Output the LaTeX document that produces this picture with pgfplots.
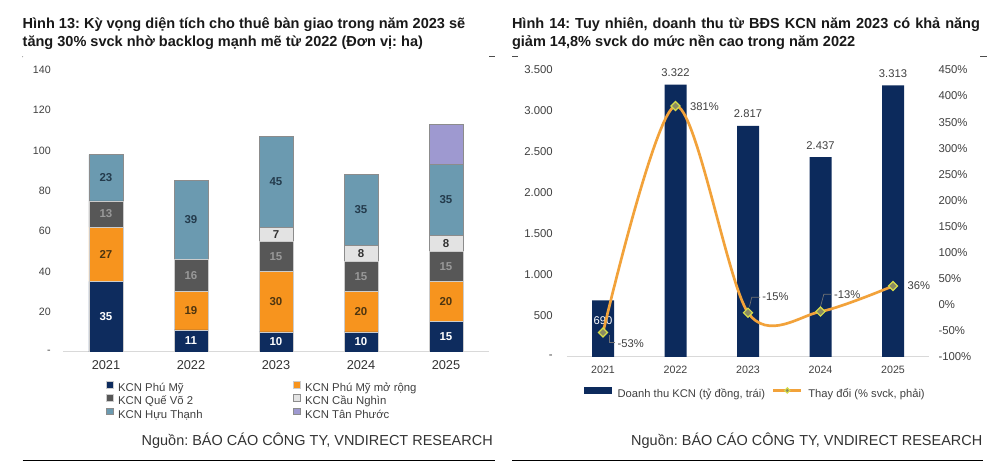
\documentclass[border=0pt]{standalone}
\usepackage{pgfplots}
\pgfplotsset{compat=1.18}
\usepackage{pgfplotstable}
\usepackage{fontspec}
\setmainfont{Liberation Sans}
\frenchspacing

\definecolor{navyL}{HTML}{0E2C5E}
\definecolor{orangeL}{HTML}{F7941E}
\definecolor{dgrayL}{HTML}{575757}
\definecolor{lgrayL}{HTML}{E3E3E3}
\definecolor{steelL}{HTML}{6B9AB0}
\definecolor{lavL}{HTML}{9E99D0}
\definecolor{navyR}{HTML}{0C2A5C}
\definecolor{orangeR}{HTML}{F2A23A}
\definecolor{mkfill}{HTML}{8A8B63}
\definecolor{mkdraw}{HTML}{D6DC4A}
\definecolor{txt}{HTML}{404040}
\definecolor{bord}{HTML}{8C8C8C}
\definecolor{orlbl}{HTML}{4D3510}
\definecolor{stlbl}{HTML}{243B4C}

\pgfplotstableread{
x pm pmr qv cn ht tp
0 35 27 13 0 23 0
1 11 19 16 0 39 0
2 10 30 15 7 45 0
3 10 20 15 8 35 0
4 15 20 15 8 35 20
}\stackdata

\pgfplotstableread{
x rev lab dy wh
0 690 690 -15 1
1 3322 3.322 9 0
2 2817 2.817 9 0
3 2437 2.437 9 0
4 3313 3.313 9 0
}\revdata

\pgfplotstableread{
x chg dx dy
0 -53 10.5 -8.1
1 381 10.5 -0.8
2 -15 10.3 11.9
3 -13 9.75 13
4 36 10.5 0
}\chgdata

\pgfplotsset{
  stacklbl/.style={
    nodes near coords={\ifnum\pgfplotspointmeta>0 \pgfplotspointmeta\fi},
    point meta=explicit symbolic,
    every node near coord/.append style={anchor=center, inner sep=0pt,
      font=\bfseries\fontsize{8.6}{10}\selectfont, text=#1},
  },
  linelegend/.style={
    legend image code/.code={\draw[mark repeat=2, mark phase=2, ##1, mark size=1.4pt] plot coordinates {(0pt,3pt) (10.5pt,3pt) (21pt,3pt)};}
  },
  boxlegend/.style={
    legend image code/.code={\draw[##1, line width=0.4pt] (0pt,0.4pt) rectangle (5.2pt,5.6pt);}
  },
}

\begin{document}
\begin{tikzpicture}
\path[use as bounding box, fill=white] (0,0) rectangle (750pt,354.75pt);

% ---------------- titles ----------------
\node[anchor=base west, inner sep=0pt, font=\bfseries\fontsize{10.9}{13}\selectfont, text=black!90]
  at (16.8pt,333.5pt) {Hình 13: Kỳ vọng diện tích cho thuê bàn giao trong năm 2023 sẽ};
\node[anchor=base west, inner sep=0pt, font=\bfseries\fontsize{10.9}{13}\selectfont, text=black!90]
  at (16.8pt,319.5pt) {tăng 30\% svck nhờ backlog mạnh mẽ từ 2022 (Đơn vị: ha)};
\node[anchor=base west, inner sep=0pt, font=\bfseries\fontsize{10.9}{13}\selectfont, text=black!90]
  at (383.8pt,333.5pt) {\makebox[351pt][s]{Hình 14: Tuy nhiên, doanh thu từ BĐS KCN năm 2023 có khả năng}};
\node[anchor=base west, inner sep=0pt, font=\bfseries\fontsize{10.9}{13}\selectfont, text=black!90]
  at (383.8pt,319.5pt) {giảm 14,8\% svck do mức nền cao trong năm 2022};

% small dashes
\draw[black!70, line width=0.6pt] (366.75pt,312.2pt) -- (371.25pt,312.2pt);
\draw[black!70, line width=0.6pt] (384pt,312.2pt) -- (388.5pt,312.2pt);
\draw[black!70, line width=0.6pt] (735pt,312.2pt) -- (740.5pt,312.2pt);
\fill[black!50] (17pt,312.2pt) circle (0.4pt);

% ---------------- left chart ----------------
\begin{axis}[
  at={(47.625pt,90.75pt)}, anchor=south west,
  scale only axis, width=318.75pt, height=211.5pt,
  xmin=-0.5, xmax=4.5, ymin=0, ymax=140,
  ybar stacked, bar width=25.5pt,
  axis x line*=bottom, axis y line*=left,
  y axis line style={draw=none},
  x axis line style={draw=black!15, line width=0.75pt},
  major tick length=0pt,
  xtick={0,1,2,3,4}, xticklabels={2021,2022,2023,2024,2025},
  ytick={0,20,40,60,80,100,120,140},
  yticklabels={-,20,40,60,80,100,120,140},
  yticklabel style={inner sep=0pt, anchor=east, xshift=-9.4pt, font=\fontsize{8}{9}\selectfont, text=txt},
  xticklabel style={inner sep=0pt, anchor=north, yshift=-6.2pt, font=\fontsize{9.6}{11}\selectfont, text=black!80},
  legend columns=2,
  legend cell align=left,
  legend style={at={(axis description cs:0.1007,-0.102)}, anchor=north west,
    draw=none, fill=none, inner sep=0pt, outer sep=0pt,
    font=\fontsize{8.5}{10}\selectfont, text=txt, row sep=-0.5pt,
    nodes={inner sep=0.5pt, text height=6.5pt, text depth=2pt},
    /tikz/every odd column/.append style={column sep=2.8pt},
    /tikz/every even column/.append style={column sep=67.5pt}},
  boxlegend,
]
\addplot[fill=navyL, draw=white!60!gray, line width=0.5pt, stacklbl=white]
  table[x=x, y=pm, meta=pm] {\stackdata};
\addlegendentry{KCN Phú Mỹ}
\addplot[fill=orangeL, draw=white!60!gray, line width=0.5pt, stacklbl=orlbl]
  table[x=x, y=pmr, meta=pmr] {\stackdata};
\addlegendentry{KCN Phú Mỹ mở rộng}
\addplot[fill=dgrayL, draw=white!60!gray, line width=0.5pt, stacklbl=black!40]
  table[x=x, y=qv, meta=qv] {\stackdata};
\addlegendentry{KCN Quế Võ 2}
\addplot[fill=lgrayL, draw=bord, line width=0.5pt, stacklbl=black!80]
  table[x=x, y=cn, meta=cn] {\stackdata};
\addlegendentry{KCN Cầu Nghìn}
\addplot[fill=steelL, draw=bord, line width=0.5pt, stacklbl=stlbl]
  table[x=x, y=ht, meta=ht] {\stackdata};
\addlegendentry{KCN Hựu Thạnh}
\addplot[fill=lavL, draw=bord, line width=0.5pt]
  table[x=x, y=tp] {\stackdata};
\addlegendentry{KCN Tân Phước}
\end{axis}

% ---------------- right chart: bars ----------------
\begin{axis}[
  at={(425.0625pt,87pt)}, anchor=south west,
  scale only axis, width=271.875pt, height=215.25pt,
  xmin=-0.5, xmax=4.5, ymin=0, ymax=3500,
  ybar, bar width=16.5pt, bar shift=0pt,
  axis x line*=bottom, axis y line*=left,
  y axis line style={draw=none},
  x axis line style={draw=black!15, line width=0.75pt},
  major tick length=0pt,
  xtick={0,1,2,3,4}, xticklabels={2021,2022,2023,2024,2025},
  ytick={0,500,1000,1500,2000,2500,3000,3500},
  yticklabels={-,500,1.000,1.500,2.000,2.500,3.000,3.500},
  yticklabel style={inner sep=0pt, anchor=east, xshift=-10.3pt, font=\fontsize{8.5}{10}\selectfont, text=txt},
  xticklabel style={inner sep=0pt, anchor=north, yshift=-6.9pt, font=\fontsize{8}{9}\selectfont, text=txt},
]
\addplot[fill=navyR, draw=none,
  nodes near coords={\ifdim\wh pt>0.5pt\color{white}\fi\pgfplotspointmeta},
  point meta=explicit symbolic,
  visualization depends on={\thisrow{dy} \as \dy},
  visualization depends on={\thisrow{wh} \as \wh},
  every node near coord/.append style={anchor=center, inner sep=0pt, yshift=\dy pt,
    font=\fontsize{8.4}{10}\selectfont, text=txt}]
  table[x=x, y=rev, meta=lab] {\revdata};
\end{axis}

% ---------------- right chart: line ----------------
\begin{axis}[
  at={(425.0625pt,87pt)}, anchor=south west,
  scale only axis, width=271.875pt, height=215.25pt,
  xmin=-0.5, xmax=4.5, ymin=-100, ymax=450,
  axis x line=none, axis y line*=right,
  y axis line style={draw=none},
  major tick length=0pt,
  ytick={-100,-50,0,50,100,150,200,250,300,350,400,450},
  yticklabels={-100\%,-50\%,0\%,50\%,100\%,150\%,200\%,250\%,300\%,350\%,400\%,450\%},
  yticklabel style={inner sep=0pt, anchor=west, xshift=6.75pt, font=\fontsize{8.5}{10}\selectfont, text=txt},
  clip=false,
  legend columns=2,
  legend cell align=left,
  legend style={at={(axis description cs:0.0485,-0.106)}, anchor=north west,
    draw=none, fill=none, inner sep=0pt, outer sep=0pt,
    font=\fontsize{8.4}{10}\selectfont, text=txt,
    nodes={inner sep=0.5pt, text height=6.5pt, text depth=2pt},
    /tikz/every odd column/.append style={column sep=3.8pt},
    /tikz/every even column/.append style={column sep=4.6pt}},
]
\addlegendimage{legend image code/.code={\fill[navyR] (0pt,0.8pt) rectangle (20.25pt,5.1pt);}}
\addlegendentry{Doanh thu KCN (tỷ đồng, trái)}
\draw[black!55, line width=0.5pt] ([shift={(4.5pt,-1.9pt)}]axis cs:0,-53) -- ([shift={(4.5pt,-7.1pt)}]axis cs:0,-53) -- ([shift={(9pt,-7.1pt)}]axis cs:0,-53);
\draw[black!55, line width=0.5pt] ([shift={(1.1pt,4.5pt)}]axis cs:2,-15) -- ([shift={(2.8pt,11.5pt)}]axis cs:2,-15) -- ([shift={(9pt,11.5pt)}]axis cs:2,-15);
\draw[black!55, line width=0.5pt] ([shift={(0pt,3.75pt)}]axis cs:3,-13) -- ([shift={(2.5pt,13pt)}]axis cs:3,-13) -- ([shift={(8pt,13pt)}]axis cs:3,-13);
\addplot[smooth, color=orangeR, line width=2pt,
  mark=square*, mark size=2.4pt,
  mark options={rotate=45, fill=mkfill, draw=mkdraw, line width=0.9pt},
  linelegend,
  nodes near coords={\pgfplotspointmeta\%},
  point meta=explicit symbolic,
  visualization depends on={\thisrow{dx} \as \dx},
  visualization depends on={\thisrow{dy} \as \dy},
  every node near coord/.append style={anchor=west, inner sep=0pt, xshift=\dx pt, yshift=\dy pt,
    font=\fontsize{8.4}{10}\selectfont, text=txt}]
  table[x=x, y=chg, meta=chg] {\chgdata};
\addlegendentry{Thay đổi (\% svck, phải)}
\end{axis}

% ---------------- sources and rules ----------------
\node[anchor=base east, inner sep=0pt, font=\fontsize{10.85}{13}\selectfont, text=black!80]
  at (369.75pt,20.25pt) {Nguồn: BÁO CÁO CÔNG TY, VNDIRECT RESEARCH};
\node[anchor=base east, inner sep=0pt, font=\fontsize{10.85}{13}\selectfont, text=black!80]
  at (736.9pt,20.25pt) {Nguồn: BÁO CÁO CÔNG TY, VNDIRECT RESEARCH};
\draw[black, line width=0.75pt] (17pt,9.2pt) -- (371.25pt,9.2pt);
\draw[black, line width=0.75pt] (384pt,9.2pt) -- (737.25pt,9.2pt);
\end{tikzpicture}
\end{document}
